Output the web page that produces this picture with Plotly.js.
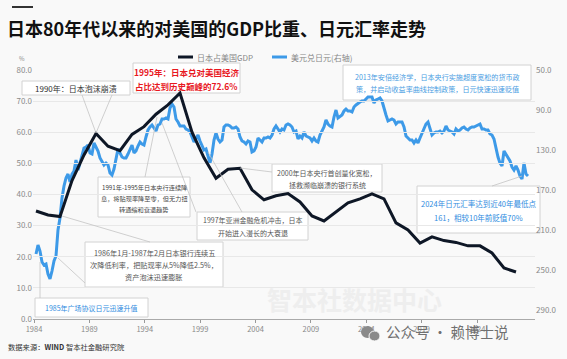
<!DOCTYPE html>
<html>
<head>
<meta charset="utf-8">
<script src="https://cdn.plot.ly/plotly-3.0.1.min.js"></script>
<style>
html,body{margin:0;padding:0;background:#f9f9f9;}
#chart{width:567px;height:359px;}
</style>
</head>
<body>
<div id="chart"></div>
<script>
// ---------------- DATA ----------------
// Japan GDP as % of US GDP (annual)
const gdpYears = [1983,1984,1985,1986,1987,1988,1989,1990,1991,1992,1993,1994,1995,1996,1997,1998,1999,2000,2001,2002,2003,2004,2005,2006,2007,2008,2009,2010,2011,2012,2013,2014,2015,2016,2017,2018,2019,2020,2021,2022,2023];
const gdpShare = [34.7,33.4,32.9,44.5,52.7,59.6,55.5,54.1,59.3,61.8,65.8,68.8,72.6,60.0,51.8,45.2,48.1,48.4,41.5,38.3,39.6,40.3,37.6,33.1,31.5,34.4,37.3,38.6,40.2,38.6,30.9,28.6,24.4,26.4,25.2,24.6,23.5,23.5,21.2,16.4,15.1];

// USD/JPY, every two months (Jan, Mar, May, Jul, Sep, Nov) from Jan 1984
const fxStartYear = 1984;
const fxStepMonths = 2;
const usdJpy = [
 234,225,231,242,245,244,   // 1984
 254,259,251,241,236,210,   // 1985
 198,178,166,158,154,162,   // 1986
 154,151,140,150,143,135,   // 1987
 128,127,125,133,134,123,   // 1988
 127,131,138,141,145,143,   // 1989
 145,153,155,149,138,129,   // 1990
 133,137,138,138,134,130,   // 1991
 125,133,131,126,122,124,   // 1992
 125,117,110,107,105,108,   // 1993
 111,105,104,99,99,98,      // 1994
 99,88,84,87,99,102,        // 1995
 106,106,106,109,110,112,   // 1996
 118,122,119,115,121,126,   // 1997
 130,129,135,143,134,120,   // 1998
 113,119,122,120,107,105,   // 1999
 105,106,108,108,107,109,   // 2000
 117,121,122,124,121,122,   // 2001
 132,131,127,118,120,122,   // 2002
 118,118,117,118,115,109,   // 2003
 106,109,112,109,110,105,   // 2004
 104,105,107,112,111,119,   // 2005
 116,118,112,116,117,118,   // 2006
 121,118,121,122,115,111,   // 2007
 107,100,104,106,107,97,    // 2008
 90,98,96,95,91,89,         // 2009
 91,91,92,87,85,83,         // 2010
 82,81,81,79,77,77,         // 2011
 77,83,80,79,78,81,         // 2012
 89,95,101,100,99,100,      // 2013
 104,102,102,102,107,116,   // 2014
 118,120,120,123,120,123,   // 2015
 118,113,109,104,102,108,   // 2016
 115,113,112,112,111,113,   // 2017
 111,106,110,111,112,114,   // 2018
 109,111,110,108,107,109,   // 2019
 110,108,107,107,106,105,   // 2020
 104,109,109,110,110,114,   // 2021
 115,119,129,137,143,146,   // 2022
 131,134,137,141,147,150,   // 2023
 146,150,156,159,143,154,   // 2024
 156                        // 2025
];

// bottom axis labels as printed on the reference (evenly spaced)
const xTickYears = [1984,1989,1994,1999,2004,2009,2014,2019,2024];
const leftTicks = [0,10,20,30,40,50,60,70,80];
const rightTicks = [50,90,130,170,210,250,290];

const seriesNames = ['日本占美国GDP','美元兑日元(右轴)'];
const titleText = '日本80年代以来的对美国的GDP比重、日元汇率走势';

// ---------------- LAYOUT HELPERS ----------------
const L = 33, T = 70, W = 502, H = 249;
const px = x => (x - L) / W;
const py = y => (T + H - y) / H;

// time axis (decimal years): 12 px per year, Jan 1984 at pixel 36
const T0 = 1983.75, PXY = 12;
const fxTime = usdJpy.map((_, i) => fxStartYear + (i * fxStepMonths) / 12);
// the reference prints its year labels 11.075 px apart starting at pixel 34
const tickPos = xTickYears.map(y => T0 + (34 + 11.075 * (y - 1984) - L) / PXY);

const FONT = '"Noto Sans CJK SC","Noto Sans",sans-serif';
const BLUE = '#3d9ae8';
const DARK = '#0e1726';

const traces = [
  {type:'scatter', mode:'lines', name:seriesNames[1], x:fxTime, y:usdJpy,
   xaxis:'x', yaxis:'y2', line:{color:BLUE, width:3}, showlegend:false, hoverinfo:'skip'},
  {type:'scatter', mode:'lines', name:seriesNames[0], x:gdpYears, y:gdpShare,
   xaxis:'x2', yaxis:'y', line:{color:DARK, width:3}, showlegend:false, hoverinfo:'skip'}
];

const boxes = [
 {x0:22,y0:81,x1:130,y1:95, lines:['1990年：日本泡沫崩溃'], ys:[88], size:8, color:'#333'},
 {x0:133,y0:63,x1:240,y1:93, lines:['1995年：日本兑对美国经济','占比达到历史巅峰的72.6%'], ys:[72,86], size:8.5, color:'#e8191f', bold:true},
 {x0:98,y0:177,x1:190,y1:217, lines:['1991年-1995年日本央行连续降','息，将贴现率降至零，但无力扭','转通缩和衰退趋势'], ys:[187,198,209], size:6.2, color:'#444'},
 {x0:197,y0:212,x1:308,y1:240, lines:['1997年亚洲金融危机冲击，日本','开始进入漫长的大衰退'], ys:[220,233], size:7, color:'#555'},
 {x0:85,y0:242,x1:223,y1:287, lines:['1986年1月-1987年2月日本银行连续五','次降低利率，把贴现率从5%降低2.5%，','资产泡沫迅速膨胀'], ys:[253,265,277], size:7.2, color:'#555'},
 {x0:35,y0:298,x1:148,y1:317, lines:['1985年广场协议日元迅速升值'], ys:[308], size:7, color:'#2f8ce0'},
 {x0:272,y0:164,x1:382,y1:192, lines:['2000年日本央行首创量化宽松，','拯救濒临崩溃的银行系统'], ys:[173,185], size:7, color:'#555'},
 {x0:343,y0:65,x1:531,y1:100, lines:['2013年安倍经济学，日本央行实施超度宽松的货币政','策，并启动收益率曲线控制政策，日元快速迅速贬值'], ys:[77,89], size:7.1, color:'#4a9de2'},
 {x0:417,y0:186,x1:540,y1:233, lines:['2024年日元汇率达到近40年最低点','161，相较10年前贬值70%'], ys:[203,217], size:7.5, color:'#2f8ce0'}
];

const leaders = [
 [82,95,96,133],[112,95,96,133],[157,117,145,177],[208,152,242,212],[162,123,196,212],
 [62,216,150,242],[58,258,85,283],[40,262,40,298],[240,168,272,172],[492,186,522,176]
];

const shapes = [];
const annotations = [];

// title accent bar
shapes.push({type:'line', xref:'paper', yref:'paper', x0:px(12), x1:px(33), y0:py(7), y1:py(7), line:{color:'#333', width:2}});

// watermark
annotations.push({xref:'paper', yref:'paper', x:px(354), y:py(299), text:'<b>智本社数据中心</b>', showarrow:false,
  font:{family:FONT, size:25, color:'#eeeeee'}, xanchor:'center', yanchor:'middle'});

boxes.forEach(b => {
  shapes.push({type:'rect', xref:'paper', yref:'paper', layer:'below',
    x0:px(b.x0), x1:px(b.x1), y0:py(b.y1), y1:py(b.y0),
    fillcolor:'#ffffff', line:{color:'#d2d2d2', width:1}});
  const cx = (b.x0 + b.x1) / 2;
  b.lines.forEach((t, i) => {
    annotations.push({xref:'paper', yref:'paper', x:px(cx), y:py(b.ys[i]),
      text: b.bold ? '<b>' + t + '</b>' : t, showarrow:false, xanchor:'center', yanchor:'middle',
      font:{family:FONT, size:b.size, color:b.color}});
  });
});

leaders.forEach(l => {
  shapes.push({type:'line', xref:'paper', yref:'paper', x0:px(l[0]), y0:py(l[1]), x1:px(l[2]), y1:py(l[3]),
    line:{color:'#c4c4c4', width:0.8}});
});

// manual legend
shapes.push({type:'line', xref:'paper', yref:'paper', x0:px(178), x1:px(193), y0:py(57), y1:py(57), line:{color:DARK, width:3}});
shapes.push({type:'line', xref:'paper', yref:'paper', x0:px(272), x1:px(287), y0:py(57), y1:py(57), line:{color:BLUE, width:3}});
annotations.push({xref:'paper', yref:'paper', x:px(195), y:py(57), text:seriesNames[0], showarrow:false, xanchor:'left', yanchor:'middle', font:{family:FONT, size:8, color:'#888'}});
annotations.push({xref:'paper', yref:'paper', x:px(289), y:py(57), text:seriesNames[1], showarrow:false, xanchor:'left', yanchor:'middle', font:{family:FONT, size:8, color:'#888'}});

// % unit label
annotations.push({xref:'paper', yref:'paper', x:px(22), y:py(59), text:'%', showarrow:false, xanchor:'center', yanchor:'middle', font:{family:FONT, size:6, color:'#888'}});

// source
annotations.push({xref:'paper', yref:'paper', x:px(6), y:py(347), text:'数据来源：<b>WIND</b> 智本社金融研究院', showarrow:false, xanchor:'left', yanchor:'middle', font:{family:FONT, size:7.3, color:'#333'}});

// wechat watermark
shapes.push({type:'circle', xref:'paper', yref:'paper', x0:px(361), x1:px(374), y0:py(338), y1:py(326), fillcolor:'#8a8a8a', line:{width:0}});
shapes.push({type:'circle', xref:'paper', yref:'paper', x0:px(369), x1:px(380), y0:py(341), y1:py(331), fillcolor:'#8a8a8a', line:{color:'#f9f9f9', width:1}});
annotations.push({xref:'paper', yref:'paper', x:px(384), y:py(331), text:'公众号 · 赖博士说', showarrow:false, xanchor:'left', yanchor:'middle', font:{family:FONT, size:14.5, color:'#707070'}});

const layout = {
  width:567, height:359,
  margin:{l:L, r:567 - L - W, t:T, b:359 - T - H, pad:0},
  paper_bgcolor:'#f9f9f9', plot_bgcolor:'rgba(0,0,0,0)',
  font:{family:FONT, size:8, color:'#808080'},
  title:{text:'<b>' + titleText + '</b>', xref:'container', x:7/567, xanchor:'left', yref:'container', y:1 - 30/359, yanchor:'middle',
         font:{family:FONT, size:18, color:'#111'}},
  showlegend:false,
  xaxis:{range:[T0, T0 + W/PXY], tickvals:tickPos, ticktext:xTickYears.map(String),
         ticks:'outside', ticklen:3, tickcolor:'#999', showline:true, linecolor:'#aaa', linewidth:1,
         showgrid:false, zeroline:false, tickfont:{size:7.5, color:'#8a8a8a'}, fixedrange:true},
  xaxis2:{overlaying:'x', range:[T0 - 1, T0 - 1 + W/PXY], visible:false, fixedrange:true},
  yaxis:{range:[0,80], tickvals:leftTicks, tickformat:'.1f', showgrid:true, gridcolor:'#e8e8e8', gridwidth:1,
         zeroline:false, showline:false, ticks:'', tickfont:{size:8, color:'#8a8a8a'}, fixedrange:true},
  yaxis2:{overlaying:'y', side:'right', range:[299,50], tickvals:rightTicks, tickformat:'.1f', showgrid:false,
          zeroline:false, showline:false, ticks:'', tickfont:{size:8, color:'#8a8a8a'}, fixedrange:true},
  shapes:shapes,
  annotations:annotations
};

Plotly.newPlot('chart', traces, layout, {displayModeBar:false, staticPlot:true});
</script>
</body>
</html>
